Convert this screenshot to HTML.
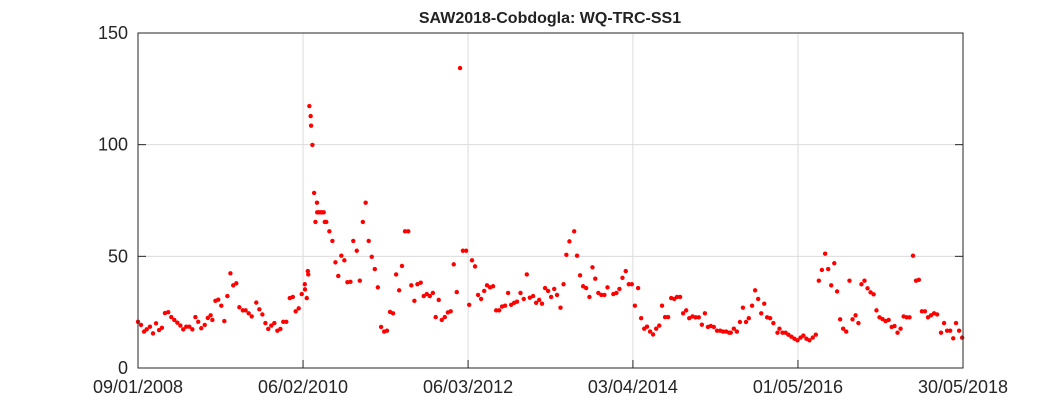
<!DOCTYPE html>
<html><head><meta charset="utf-8"><style>
body{margin:0;background:#fff;}
svg{display:block;font-family:"Liberation Sans",Arial,sans-serif;}
</style></head><body>
<svg id="chart" width="1063" height="413">
<rect width="1063" height="413" fill="#fff"/>
<g id="grid"></g>
<g id="pts"></g>
<g id="axes"></g>
<text x="550" y="23" text-anchor="middle" font-size="16" font-weight="bold" fill="#222">SAW2018-Cobdogla: WQ-TRC-SS1</text>
</svg>
<script>
const xDays=[0,14,28,40,55,69,83,97,110,124,139,153,167,181,195,208,222,236,250,264,277,291,307,321,334,342,356,369,383,397,411,425,438,452,466,482,495,509,523,544,558,572,586,599,613,627,641,655,668,682,698,712,725,739,753,767,768,776,781,783,788,794,796,802,810,816,823,824,831,839,846,854,859,866,880,894,908,921,935,949,963,977,990,1006,1020,1034,1047,1061,1075,1089,1103,1118,1132,1145,1159,1173,1187,1201,1214,1228,1243,1257,1271,1285,1300,1314,1328,1342,1356,1369,1383,1397,1411,1425,1438,1452,1466,1481,1494,1509,1523,1536,1550,1564,1578,1592,1605,1619,1633,1647,1661,1674,1688,1702,1716,1730,1743,1759,1774,1788,1802,1817,1831,1845,1858,1872,1886,1900,1914,1927,1943,1957,1970,1984,2006,2019,2033,2047,2061,2076,2090,2103,2117,2131,2145,2159,2186,2200,2214,2228,2243,2257,2271,2285,2300,2314,2328,2341,2355,2369,2383,2397,2410,2424,2438,2452,2466,2479,2493,2507,2521,2535,2550,2564,2579,2593,2607,2621,2634,2648,2663,2677,2691,2705,2719,2726,2740,2754,2768,2782,2796,2809,2824,2838,2852,2866,2880,2893,2907,2922,2941,2950,2964,2978,2991,3005,3019,3033,3047,3060,3074,3088,3103,3117,3131,3145,3160,3174,3188,3202,3215,3229,3243,3257,3272,3286,3300,3313,3327,3341,3355,3369,3383,3396,3410,3424,3438,3452,3466,3479,3493,3507,3521,3535,3548,3564,3578,3591,3605,3619,3633,3647,3661,3675,3693,3707,3721,3735,3749,3762,3776,3790];
const yVals=[20.7,19.3,16.3,17.3,18.5,15.5,20,17,18,24.6,25,22.8,21.5,20.3,19,17.3,18.5,18.5,17.3,22.8,20.7,17.8,19.3,22.4,23.6,21.5,30.1,30.6,27.9,21,32.2,42.4,37,37.9,27.2,25.8,25.8,24.5,23.1,29.3,26.3,24,20.1,17.5,19,20.1,16.7,17.5,20.7,20.7,31.3,31.8,25.4,26.7,33.1,37.5,35.2,31.3,43.4,41.9,117.3,112.8,108.5,99.9,78.4,65.4,74,69.7,69.7,69.7,69.7,69.7,65.4,65.4,61.2,56.9,47.3,41.2,50.3,48.2,38.4,38.6,56.9,52.5,39.1,65.4,74,56.9,49.8,44.3,36.1,18.4,16.3,16.7,25.1,24.5,41.9,34.8,45.7,61.2,61.2,37,30.1,37.5,38.2,32.2,33.1,32.2,33.6,22.8,30.5,21.5,22.8,24.9,25.4,46.4,34,134.3,52.5,52.5,28.3,48.2,45.5,32.7,30.9,34.5,37,36.1,36.6,25.8,25.8,27.5,27.9,33.6,28.3,29.2,29.7,33.6,30.9,41.9,31.5,32.2,29.2,30.5,28.8,35.8,34.5,31.8,35.4,32.7,27,37.5,50.7,56.7,61.2,50.3,41.5,36.6,35.8,31.8,45.1,40,33.6,32.7,32.7,36.1,33.1,33.6,35.4,40.4,43.4,37.5,37.5,27.9,35.8,22.3,17.6,18.5,16.3,15,17.6,19,27.9,22.8,22.8,31.3,30.9,31.8,31.8,24.5,25.8,22.3,23.1,22.7,22.7,19.4,24.5,18.4,18.8,18.4,16.7,16.7,16.3,16.3,15.8,15.8,17.6,16.3,20.6,27,20.6,22.3,27.9,34.8,30.9,24.5,28.8,22.7,22.3,20.1,15.8,17.6,15.8,15.8,14.9,14,13.1,12.4,13.6,14.5,13.1,12.4,13.6,14.9,39.1,43.9,51.2,44.3,37,46.9,34.3,21.8,17.6,16.3,39.1,21.8,23.6,20.1,37.5,39.1,35.7,33.9,33,25.8,22.7,21.9,21,21.5,18.4,18.8,15.8,17.6,23.1,22.7,22.7,50.3,39.1,39.5,25.4,25.4,22.7,23.6,24.5,24,15.8,20.1,16.7,16.7,13.3,20.1,16.7,13.6];
const xTickDays=[0,759,1518,2276,3035,3794];
const xTickLabels=["09/01/2008","06/02/2010","06/03/2012","03/04/2014","01/05/2016","30/05/2018"];
const yTicks=[0,50,100,150];
const X0=138,X1=963,Y0=368,Y1=33,XMAX=3794,YMAX=150;
const sx=d=>X0+d*(X1-X0)/XMAX;
const sy=v=>Y0-v*(Y0-Y1)/YMAX;
const NS="http://www.w3.org/2000/svg";
function mk(t,a,p){const e=document.createElementNS(NS,t);for(const k in a)e.setAttribute(k,a[k]);p.appendChild(e);return e;}
const grid=document.getElementById('grid'),pts=document.getElementById('pts'),axes=document.getElementById('axes');
xTickDays.forEach((d,i)=>{
  const x=sx(d);
  if(i>0&&i<xTickDays.length-1){const g=mk('line',{x1:x,x2:x,y1:Y1,y2:Y0,stroke:'#dcdcdc','stroke-width':1},grid);
  
  }
  const tk=mk('line',{x1:x,x2:x,y1:Y0,y2:Y0-8,stroke:'#262626'},axes);
  
  
  const t=mk('text',{x:x,y:Y0+25,'text-anchor':'middle','font-size':18,fill:'#262626'},axes);
  t.textContent=xTickLabels[i];
  
  
});
yTicks.forEach(v=>{
  const y=sy(v);
  if(v>0&&v<YMAX){const g=mk('line',{x1:X0,x2:X1,y1:y,y2:y,stroke:'#dcdcdc','stroke-width':1},grid);
  
  }
  const tk=mk('line',{x1:X0,x2:X0+8,y1:y,y2:y,stroke:'#262626'},axes);
  
  
  const tk2=mk('line',{x1:X1,x2:X1-8,y1:y,y2:y,stroke:'#262626'},axes);
  
  
  const t=mk('text',{x:X0-10,y:y+6,'text-anchor':'end','font-size':18,fill:'#262626'},axes);
  t.textContent=v;
  
  
});
const box=mk('rect',{x:X0,y:Y1,width:X1-X0,height:Y0-Y1,fill:'none',stroke:'#262626','stroke-width':1},axes);


xDays.forEach((d,i)=>{
  const c=mk('circle',{cx:sx(d),cy:sy(yVals[i]),r:2.2,fill:'#ff0000'},pts);
  
  
});
</script>
</body></html>
